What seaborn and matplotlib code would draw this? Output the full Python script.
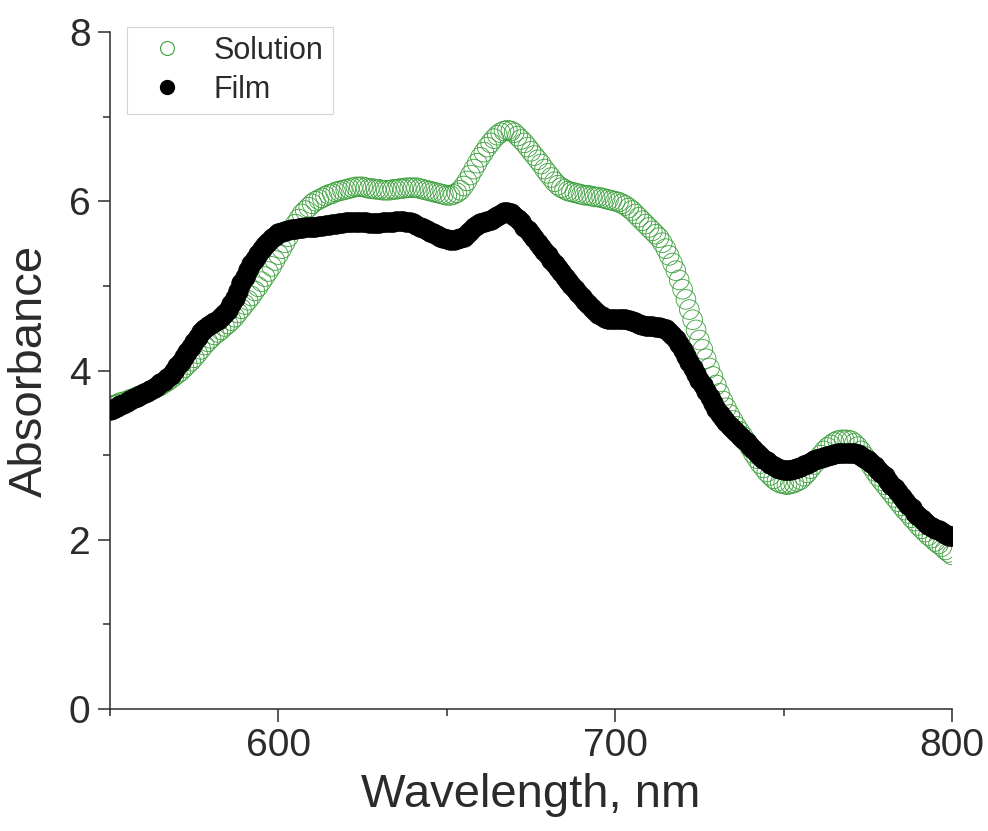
import numpy as np
import pandas as pd
import matplotlib
matplotlib.use("Agg")
import matplotlib.pyplot as plt
from matplotlib.lines import Line2D
from matplotlib.ticker import MultipleLocator
import seaborn as sns

# Wavelength grid (nm), 1 nm step
wavelength = list(range(550, 801))

# Absorbance of the film
film = [
    3.53, 3.55, 3.57, 3.59, 3.61, 3.63, 3.65, 3.67, 3.69, 3.71,
    3.73, 3.75, 3.77, 3.79, 3.82, 3.85, 3.88, 3.91, 3.95, 4.00,
    4.05, 4.10, 4.16, 4.22, 4.28, 4.34, 4.40, 4.45, 4.49, 4.52,
    4.55, 4.57, 4.60, 4.63, 4.67, 4.72, 4.78, 4.86, 4.94, 5.03,
    5.11, 5.19, 5.26, 5.32, 5.38, 5.43, 5.48, 5.52, 5.56, 5.59,
    5.62, 5.64, 5.65, 5.66, 5.67, 5.67, 5.68, 5.68, 5.69, 5.69,
    5.70, 5.70, 5.71, 5.71, 5.72, 5.72, 5.73, 5.73, 5.74, 5.74,
    5.75, 5.75, 5.76, 5.76, 5.75, 5.75, 5.75, 5.74, 5.74, 5.74,
    5.74, 5.75, 5.75, 5.76, 5.76, 5.77, 5.77, 5.77, 5.76, 5.75,
    5.74, 5.72, 5.70, 5.68, 5.66, 5.64, 5.62, 5.60, 5.58, 5.56,
    5.55, 5.54, 5.54, 5.55, 5.56, 5.58, 5.61, 5.65, 5.69, 5.72,
    5.74, 5.76, 5.77, 5.78, 5.80, 5.82, 5.85, 5.87, 5.87, 5.86,
    5.83, 5.79, 5.75, 5.70, 5.66, 5.61, 5.56, 5.51, 5.46, 5.41,
    5.36, 5.31, 5.26, 5.21, 5.16, 5.11, 5.06, 5.01, 4.96, 4.91,
    4.87, 4.82, 4.78, 4.74, 4.70, 4.67, 4.64, 4.62, 4.61, 4.61,
    4.61, 4.61, 4.61, 4.61, 4.60, 4.59, 4.57, 4.55, 4.54, 4.53,
    4.52, 4.52, 4.51, 4.51, 4.50, 4.49, 4.46, 4.42, 4.37, 4.31,
    4.24, 4.17, 4.10, 4.03, 3.96, 3.89, 3.83, 3.76, 3.69, 3.62,
    3.55, 3.49, 3.44, 3.39, 3.35, 3.31, 3.27, 3.23, 3.19, 3.15,
    3.11, 3.07, 3.03, 2.99, 2.96, 2.93, 2.90, 2.87, 2.85, 2.84,
    2.83, 2.83, 2.83, 2.84, 2.85, 2.86, 2.88, 2.90, 2.92, 2.94,
    2.96, 2.97, 2.98, 2.99, 3.00, 3.01, 3.02, 3.02, 3.03, 3.03,
    3.03, 3.02, 3.01, 2.99, 2.97, 2.94, 2.91, 2.87, 2.83, 2.79,
    2.75, 2.70, 2.65, 2.61, 2.56, 2.51, 2.46, 2.41, 2.37, 2.32,
    2.28, 2.24, 2.21, 2.18, 2.15, 2.13, 2.11, 2.09, 2.07, 2.05,
    2.04,
]

# Absorbance of the solution
solution = [
    3.58, 3.59, 3.60, 3.62, 3.63, 3.64, 3.66, 3.67, 3.69, 3.70,
    3.72, 3.74, 3.76, 3.78, 3.80, 3.82, 3.85, 3.87, 3.90, 3.93,
    3.96, 3.99, 4.03, 4.07, 4.11, 4.15, 4.20, 4.25, 4.30, 4.34,
    4.38, 4.42, 4.45, 4.48, 4.52, 4.55, 4.59, 4.63, 4.68, 4.73,
    4.78, 4.83, 4.88, 4.94, 4.99, 5.05, 5.11, 5.17, 5.23, 5.30,
    5.37, 5.44, 5.51, 5.58, 5.66, 5.73, 5.79, 5.85, 5.89, 5.93,
    5.97, 6.00, 6.02, 6.04, 6.06, 6.08, 6.09, 6.11, 6.12, 6.13,
    6.14, 6.15, 6.16, 6.17, 6.17, 6.17, 6.16, 6.15, 6.15, 6.14,
    6.14, 6.13, 6.13, 6.13, 6.14, 6.14, 6.15, 6.15, 6.16, 6.16,
    6.16, 6.16, 6.15, 6.14, 6.13, 6.12, 6.11, 6.10, 6.09, 6.08,
    6.07, 6.07, 6.08, 6.10, 6.13, 6.18, 6.24, 6.31, 6.38, 6.45,
    6.52, 6.58, 6.64, 6.69, 6.74, 6.78, 6.81, 6.83, 6.84, 6.83,
    6.81, 6.77, 6.73, 6.69, 6.64, 6.59, 6.54, 6.49, 6.44, 6.38,
    6.33, 6.28, 6.23, 6.19, 6.16, 6.14, 6.12, 6.11, 6.10, 6.09,
    6.08, 6.07, 6.07, 6.06, 6.05, 6.05, 6.04, 6.03, 6.02, 6.01,
    6.00, 5.99, 5.97, 5.95, 5.92, 5.89, 5.85, 5.81, 5.77, 5.73,
    5.69, 5.65, 5.61, 5.57, 5.51, 5.44, 5.36, 5.27, 5.18, 5.07,
    4.96, 4.84, 4.72, 4.60, 4.48, 4.36, 4.25, 4.14, 4.03, 3.93,
    3.83, 3.73, 3.64, 3.56, 3.48, 3.41, 3.34, 3.28, 3.22, 3.15,
    3.09, 3.02, 2.96, 2.90, 2.85, 2.80, 2.76, 2.72, 2.69, 2.67,
    2.66, 2.65, 2.66, 2.67, 2.69, 2.71, 2.75, 2.79, 2.84, 2.89,
    2.95, 3.00, 3.05, 3.09, 3.12, 3.15, 3.17, 3.18, 3.18, 3.18,
    3.17, 3.14, 3.10, 3.05, 2.99, 2.93, 2.87, 2.81, 2.75, 2.70,
    2.65, 2.60, 2.55, 2.50, 2.45, 2.40, 2.35, 2.31, 2.26, 2.22,
    2.17, 2.13, 2.09, 2.05, 2.02, 1.98, 1.95, 1.92, 1.88, 1.85,
    1.82,
]

x_ticks = [600, 700, 800]
y_ticks = [0, 2, 4, 6, 8]

green = "#3a9e3a"
ink = "#2b2b2b"

sns.set_theme(style="ticks")
plt.rcParams["font.family"] = ["Liberation Sans", "DejaVu Sans"]

df = pd.DataFrame({"wl": wavelength, "sol": solution, "film": film})

fig = plt.figure(figsize=(9.88, 8.31), dpi=100)
ax = fig.add_axes([0.1113, 0.1468, 0.8523, 0.8147])

sns.scatterplot(data=df, x="wl", y="sol", ax=ax, marker="o", s=200,
                facecolors="none", edgecolor=green, linewidth=0.6,
                legend=False, zorder=2)
sns.scatterplot(data=df, x="wl", y="film", ax=ax, marker="o", s=200,
                color="black", edgecolor="black", linewidth=0.5,
                legend=False, zorder=3)

ax.set_xlim(550, 800)
ax.set_ylim(0, 8)
ax.set_xticks(x_ticks)
ax.set_yticks(y_ticks)
ax.xaxis.set_minor_locator(MultipleLocator(50))
ax.yaxis.set_minor_locator(MultipleLocator(1))

for side in ("top", "right"):
    ax.spines[side].set_visible(False)
for side in ("left", "bottom"):
    ax.spines[side].set_color(ink)
    ax.spines[side].set_linewidth(1.1)

ax.tick_params(which="major", direction="out", length=9, width=1.1,
               color=ink, labelcolor=ink, labelsize=28, pad=5)
ax.tick_params(which="minor", direction="out", length=5, width=1.1,
               color=ink)

ax.set_xlabel("Wavelength, nm", fontsize=34, color=ink, labelpad=6)
ax.set_ylabel("Absorbance", fontsize=34, color=ink, labelpad=12)

handles = [
    Line2D([], [], linestyle="none", marker="o", markersize=10,
           markerfacecolor="none", markeredgecolor=green,
           markeredgewidth=0.8, label="Solution"),
    Line2D([], [], linestyle="none", marker="o", markersize=10,
           markerfacecolor="black", markeredgecolor="black",
           label="Film"),
]
leg = ax.legend(handles=handles, loc="upper left",
                bbox_to_anchor=(0.02, 1.008), borderaxespad=0,
                fontsize=22, frameon=True, fancybox=False,
                framealpha=1, edgecolor="#d4d4d4", handletextpad=0.55,
                borderpad=0.3, labelspacing=0.3, handlelength=2.0)
for t in leg.get_texts():
    t.set_color(ink)
leg.get_frame().set_linewidth(0.8)

fig.savefig("out.png", dpi=100, facecolor="white")
